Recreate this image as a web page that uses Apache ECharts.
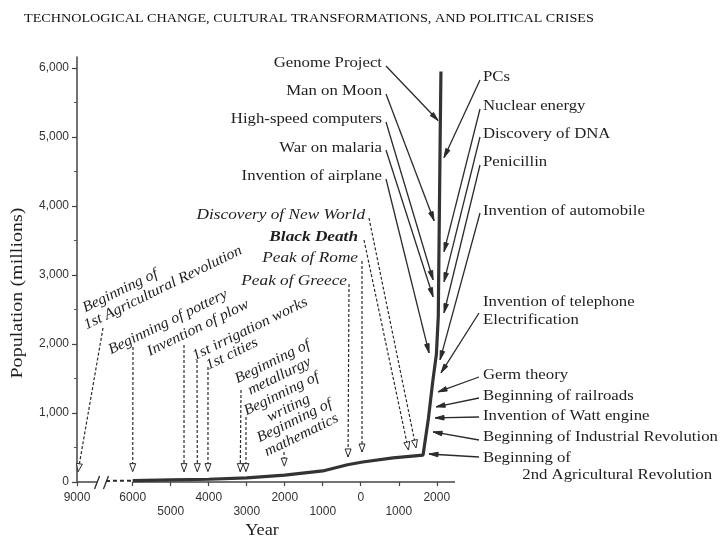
<!DOCTYPE html>
<html><head><meta charset="utf-8">
<script src="https://cdn.jsdelivr.net/npm/echarts@6/dist/echarts.min.js"></script>
<style>html,body{margin:0;padding:0;background:#fff}#c{width:720px;height:540px}</style>
</head><body><div id="c"></div>
<script>
// ---------------- data ----------------
const titleText = 'TECHNOLOGICAL CHANGE, CULTURAL TRANSFORMATIONS, AND POLITICAL CRISES';
const popYears  = [-6000, -5000, -4000, -3000, -2000, -1000, -350, 50, 850, 1640, 1780, 1900, 1990, 2040, 2090, 2110];
const popValues = [20, 30, 40, 60, 100, 160, 250, 290, 350, 390, 920, 1480, 1850, 2400, 5000, 5950];
const earlyYears  = [-7440, -6000];
const earlyValues = [15, 20];
const xTickYears  = [-9000, -6000, -5000, -4000, -3000, -2000, -1000, 0, 1000, 2000];
const xTickLabels = ['9000', '6000', '5000', '4000', '3000', '2000', '1000', '0', '1000', '2000'];
const yTickValues = [0, 1000, 2000, 3000, 4000, 5000, 6000];
const yTickLabels = ['0', '1,000', '2,000', '3,000', '4,000', '5,000', '6,000'];
const yMinorTicks = [500, 1500, 2500, 3500, 4500, 5500];
const breakYears  = [-7920, -7440];
const xEndYear = 2480;
const yMax = 6160;

const eventNames = [
  'Beginning of\n1st Agricultural Revolution', 'Beginning of pottery', 'Invention of plow',
  '1st irrigation works', '1st cities', 'Beginning of\nmetallurgy', 'Beginning of\nwriting',
  'Beginning of\nmathematics', 'Peak of Greece', 'Peak of Rome', 'Black Death',
  'Discovery of New World', 'Genome Project', 'Man on Moon', 'High-speed computers',
  'War on malaria', 'Invention of airplane', 'PCs', 'Nuclear energy', 'Discovery of DNA',
  'Penicillin', 'Invention of automobile', 'Invention of telephone\nElectrification',
  'Germ theory', 'Beginning of railroads', 'Invention of Watt engine',
  'Beginning of Industrial Revolution', 'Beginning of\n2nd Agricultural Revolution'
];
const eventYears = [-8945, -6000, -4650, -4300, -4020, -3170, -3020, -2010, -334, 34, 1255, 1455,
  2034, 1929, 1903, 1903, 1797, 2192, 2192, 2192, 2192, 2087, 2113, 2034, 1982, 1955, 1903, 1797];
const eventPops = [150, 150, 150, 150, 150, 150, 150, 230, 363, 435, 464, 493,
  5240, 3788, 2932, 2685, 1872, 4702, 3338, 2903, 2453, 1771, 1582, 1306, 1089, 929, 726, 406];

// ---------------- layout / style ----------------
const compress = 1466 / 3000; // broken-axis squeeze for years before 6000 BC
function toAxis(y) { return y >= -6000 ? y : -6000 + (y + 6000) * compress; }
const xTickRow = [0, 0, 1, 0, 1, 0, 1, 0, 1, 0];
const stretchRoman = 1.155, stretchItalic = 1.15, stretchRotated = 1.06;

// [textX, textY, align, rotationDeg, lineHeight, indents, anchorX, anchorY, kind]
// kind: 'd' dashed italic, 'db' dashed bold italic, 's' solid roman
const eventLayout = [
  [87, 316, 'left', 26, 16, [0, -6], 103, 328, 'd'],
  [168, 322, 'center', 26, 16, null, 133, 347, 'd'],
  [198, 328, 'center', 26, 16, null, 184, 345, 'd'],
  [250, 329, 'center', 26, 16, null, 197, 360, 'd'],
  [232, 354, 'center', 26, 16, null, 208, 367, 'd'],
  [276, 369, 'center', 26, 16, null, 241, 390, 'd'],
  [285, 401, 'center', 26, 16, null, 246, 417, 'd'],
  [298, 428, 'center', 26, 16, null, 284, 452, 'd'],
  [347, 281, 'right', 0, 16, null, 349, 284, 'd'],
  [358, 258, 'right', 0, 16, null, 362, 261, 'd'],
  [358, 237, 'right', 0, 16, null, 364, 240, 'db'],
  [365, 215, 'right', 0, 16, null, 369, 218, 'd'],
  [382, 63, 'right', 0, 16, null, 386, 66, 's'],
  [382, 91, 'right', 0, 16, null, 386, 94, 's'],
  [382, 119, 'right', 0, 16, null, 386, 122, 's'],
  [382, 148, 'right', 0, 16, null, 386, 150, 's'],
  [382, 176, 'right', 0, 16, null, 386, 179, 's'],
  [483, 77, 'left', 0, 16, null, 480, 80, 's'],
  [483, 106, 'left', 0, 16, null, 480, 109, 's'],
  [483, 134, 'left', 0, 16, null, 480, 137, 's'],
  [483, 162, 'left', 0, 16, null, 480, 165, 's'],
  [483, 211, 'left', 0, 16, null, 480, 213, 's'],
  [483, 311, 'left', 0, 18, null, 479, 313, 's'],
  [483, 375, 'left', 0, 16, null, 479, 377, 's'],
  [483, 396, 'left', 0, 16, null, 479, 398, 's'],
  [483, 416, 'left', 0, 16, null, 479, 417, 's'],
  [483, 437, 'left', 0, 16, null, 479, 440, 's'],
  [483, 466.5, 'left', 0, 17, [0, 34], 479, 457, 's']
];

const ink = '#2b2b2b';

function renderEvent(params, api) {
  const i = params.dataIndex;
  const L = eventLayout[i];
  const kind = L[8];
  const dashed = kind !== 's';
  const tip = api.coord([api.value(0), api.value(1)]);
  const sx = L[6], sy = L[7];
  const dx = tip[0] - sx, dy = tip[1] - sy, len = Math.hypot(dx, dy) || 1;
  const ux = dx / len, uy = dy / len, nx = -uy, ny = ux;
  const hl = dashed ? 8 : 9, hw = dashed ? 3 : 2.3;
  const bx = tip[0] - ux * hl, by = tip[1] - uy * hl;
  const children = [];
  children.push({
    type: 'line',
    shape: { x1: sx, y1: sy, x2: tip[0], y2: tip[1] },
    style: { stroke: ink, lineWidth: dashed ? 1.2 : 1.3, lineDash: dashed ? [3, 2] : null }
  });
  children.push({
    type: 'polygon',
    shape: { points: [[tip[0], tip[1]], [bx + nx * hw, by + ny * hw], [bx - nx * hw, by - ny * hw]] },
    style: { fill: dashed ? '#fff' : ink, stroke: ink, lineWidth: 1 }
  });
  const lines = eventNames[i].split('\n');
  const n = lines.length;
  const lh = L[4];
  const texts = lines.map((t, k) => ({
    type: 'text',
    x: L[5] ? L[5][k] : 0,
    y: (k - (n - 1) / 2) * lh,
    style: {
      text: t,
      fill: '#1e1e1e',
      fontFamily: 'Liberation Serif',
      fontSize: dashed ? 15 : 14.5,
      fontStyle: dashed ? 'italic' : 'normal',
      fontWeight: kind === 'db' ? 'bold' : 'normal',
      align: L[2],
      verticalAlign: 'middle'
    }
  }));
  const sc = !dashed ? stretchRoman : (L[3] ? stretchRotated : stretchItalic);
  children.push({
    type: 'group', x: L[0], y: L[1], rotation: L[3] * Math.PI / 180,
    scaleX: sc, scaleY: 1, children: texts
  });
  return { type: 'group', children };
}

function renderBreak(params, api) {
  const p = api.coord([api.value(0), api.value(1)]);
  return {
    type: 'line',
    shape: { x1: p[0] - 2.5, y1: p[1] + 7, x2: p[0] + 2.5, y2: p[1] - 6 },
    style: { stroke: ink, lineWidth: 1.3 }
  };
}

const xTickAxis = xTickYears.map(toAxis);

const chart = echarts.init(document.getElementById('c'), null, { renderer: 'canvas' });
chart.setOption({
  animation: false,
  backgroundColor: '#fff',
  grid: { left: 77, top: 57, width: 378, height: 425 },
  xAxis: {
    type: 'value',
    min: toAxis(-9000), max: xEndYear,
    axisLine: { show: false },
    splitLine: { show: false },
    axisTick: { show: true, customValues: xTickAxis, length: 4, lineStyle: { color: '#444', width: 1.2 } },
    axisLabel: {
      customValues: xTickAxis, showMinLabel: true, showMaxLabel: true,
      margin: 9, fontFamily: 'Liberation Sans', fontSize: 12, color: '#333', lineHeight: 14,
      formatter: function (v) {
        let k = xTickAxis.findIndex(a => Math.abs(a - v) < 1);
        if (k < 0) return '';
        return (xTickRow[k] ? '\n' : '') + xTickLabels[k];
      }
    }
  },
  yAxis: [{
    type: 'value', min: 0, max: yMax, position: 'left',
    axisLine: { show: true, onZero: false, lineStyle: { color: '#444', width: 1.5 } },
    splitLine: { show: false },
    axisTick: { show: true, customValues: yTickValues, length: 5, lineStyle: { color: '#444', width: 1.2 } },
    axisLabel: {
      customValues: yTickValues, margin: 8, fontFamily: 'Liberation Sans', fontSize: 12, color: '#333',
      formatter: function (v) { const k = yTickValues.indexOf(v); return k < 0 ? '' : yTickLabels[k]; }
    }
  }, {
    type: 'value', min: 0, max: yMax, position: 'left', offset: 0,
    axisLine: { show: false, onZero: false }, splitLine: { show: false },
    axisTick: { show: true, customValues: yMinorTicks, length: 3, lineStyle: { color: '#555', width: 1 } },
    axisLabel: { show: false }
  }],
  graphic: [
    { type: 'text', x: 24, y: 19, scaleX: 1.18,
      style: { text: titleText, fontFamily: 'Liberation Serif', fontSize: 12, fill: '#111', align: 'left', verticalAlign: 'middle' } },
    { type: 'text', x: 18, y: 293, rotation: Math.PI / 2, scaleX: 1.18,
      style: { text: 'Population (millions)', fontFamily: 'Liberation Serif', fontSize: 17, fill: '#1e1e1e', align: 'center', verticalAlign: 'middle' } },
    { type: 'text', x: 262, y: 531, scaleX: 1.14,
      style: { text: 'Year', fontFamily: 'Liberation Serif', fontSize: 16, fill: '#1e1e1e', align: 'center', verticalAlign: 'middle' } }
  ],
  series: [
    { type: 'line', name: 'axis-left', data: [[toAxis(-9000), 0], [toAxis(breakYears[0]), 0]],
      symbol: 'none', lineStyle: { color: '#444', width: 1.5 }, clip: false, z: 1 },
    { type: 'line', name: 'axis-main', data: [[-6000, 0], [xEndYear, 0]],
      symbol: 'none', lineStyle: { color: '#444', width: 1.5 }, clip: false, z: 1 },
    { type: 'line', name: 'early', data: earlyYears.map((y, i) => [toAxis(y), earlyValues[i]]),
      symbol: 'none', lineStyle: { color: ink, width: 2, type: [4, 3] }, clip: false, z: 2 },
    { type: 'line', name: 'population', data: popYears.map((y, i) => [toAxis(y), popValues[i]]),
      symbol: 'none', lineStyle: { color: '#333', width: 3.2 }, clip: false, z: 3 },
    { type: 'custom', name: 'breaks', data: breakYears.map(y => [toAxis(y), 0]), renderItem: renderBreak, clip: false, z: 4 },
    { type: 'custom', name: 'events', data: eventYears.map((y, i) => [toAxis(y), eventPops[i]]), renderItem: renderEvent, clip: false, z: 5 }
  ]
});
</script></body></html>
